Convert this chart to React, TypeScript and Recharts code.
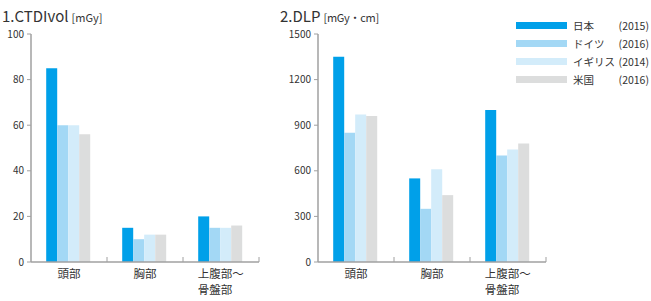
import React from 'react';
import { BarChart, Bar, XAxis, YAxis } from 'recharts';

const categories = ['頭部', '胸部', '上腹部〜\n骨盤部'];

const seriesNames = ['日本', 'ドイツ', 'イギリス', '米国'];
const seriesYears = ['(2015)', '(2016)', '(2014)', '(2016)'];
const seriesColors = ['#00a0e9', '#a3d8f5', '#d3ecfa', '#dcdddd'];

// CTDIvol [mGy]
const ctdiJapan = [85, 15, 20];
const ctdiGermany = [60, 10, 15];
const ctdiUK = [60, 12, 15];
const ctdiUS = [56, 12, 16];
const ctdiTicks = [0, 20, 40, 60, 80, 100];

// DLP [mGy・cm]
const dlpJapan = [1350, 550, 1000];
const dlpGermany = [850, 350, 700];
const dlpUK = [970, 610, 740];
const dlpUS = [960, 440, 780];
const dlpTicks = [0, 300, 600, 900, 1200, 1500];

const FONT = '"Noto Sans CJK JP", "Noto Sans", sans-serif';
const AXIS = '#a0a0a0';
const TEXT = '#333333';

const buildRows = (series: number[][]) =>
  categories.map((name, i) => ({
    name,
    s0: series[0][i],
    s1: series[1][i],
    s2: series[2][i],
    s3: series[3][i],
  }));

const ctdiRows = buildRows([ctdiJapan, ctdiGermany, ctdiUK, ctdiUS]);
const dlpRows = buildRows([dlpJapan, dlpGermany, dlpUK, dlpUS]);

function CategoryTick(props: any) {
  const { x, y, payload } = props;
  const half = payload.offset || 38;
  const lines = String(payload.value).split('\n');
  const startX = x - lines[0].length * 5.8;
  return (
    <g>
      <line x1={x + half} x2={x + half} y1={y - 5} y2={y} stroke={AXIS} strokeWidth={1} />
      {lines.map((ln, i) => (
        <text
          key={i}
          x={lines.length > 1 ? startX : x}
          y={y + 16 + i * 16}
          textAnchor={lines.length > 1 ? 'start' : 'middle'}
          fontSize={11.5}
          fill={TEXT}
          fontFamily={FONT}
        >
          {ln}
        </text>
      ))}
    </g>
  );
}

function Panel({ rows, ticks }: { rows: any[]; ticks: number[] }) {
  return (
    <BarChart
      width={286}
      height={301}
      data={rows}
      margin={{ top: 34, right: 27, bottom: 0, left: 0 }}
      barCategoryGap="20%"
      barGap={0}
    >
      <XAxis
        dataKey="name"
        height={39}
        axisLine={{ stroke: AXIS, strokeWidth: 1.5 }}
        tickLine={false}
        tickSize={0}
        tickMargin={0}
        interval={0}
        tick={<CategoryTick />}
      />
      <YAxis
        width={31}
        domain={[ticks[0], ticks[ticks.length - 1]]}
        ticks={ticks}
        interval={0}
        axisLine={{ stroke: AXIS, strokeWidth: 1.5 }}
        tickLine={{ stroke: AXIS }}
        tickSize={4}
        tickMargin={3}
        tick={{ fontSize: 10, fill: TEXT, fontFamily: FONT }}
      />
      {seriesNames.map((n, i) => (
        <Bar key={n} dataKey={`s${i}`} name={n} fill={seriesColors[i]} isAnimationActive={false} />
      ))}
    </BarChart>
  );
}

export default function App() {
  return (
    <div
      style={{
        position: 'absolute',
        left: 0,
        top: 0,
        width: 651,
        height: 301,
        background: '#fff',
        fontFamily: FONT,
        color: TEXT,
      }}
    >
      <div style={{ position: 'absolute', left: 0, top: 0 }}>
        <Panel rows={ctdiRows} ticks={ctdiTicks} />
      </div>
      <div style={{ position: 'absolute', left: 287, top: 0 }}>
        <Panel rows={dlpRows} ticks={dlpTicks} />
      </div>

      <div style={{ position: 'absolute', left: 2, top: 5, whiteSpace: 'nowrap', lineHeight: '20px' }}>
        <span style={{ fontSize: 15 }}>1.CTDIvol</span>
        <span style={{ fontSize: 11, marginLeft: 3 }}>[mGy]</span>
      </div>
      <div style={{ position: 'absolute', left: 280, top: 5, whiteSpace: 'nowrap', lineHeight: '20px' }}>
        <span style={{ fontSize: 15 }}>2.DLP</span>
        <span style={{ fontSize: 11, marginLeft: 3, letterSpacing: -0.3 }}>[mGy・cm]</span>
      </div>

      {seriesNames.map((n, i) => (
        <div
          key={n}
          style={{
            position: 'absolute',
            left: 516,
            top: 16 + i * 18,
            width: 133,
            height: 18,
            display: 'flex',
            alignItems: 'center',
            fontSize: 10.5,
            whiteSpace: 'nowrap',
          }}
        >
          <div style={{ width: 51, height: 7, background: seriesColors[i], marginRight: 6, flexShrink: 0 }} />
          <span>{n}</span>
          <span style={{ marginLeft: 'auto' }}>{seriesYears[i]}</span>
        </div>
      ))}
    </div>
  );
}
